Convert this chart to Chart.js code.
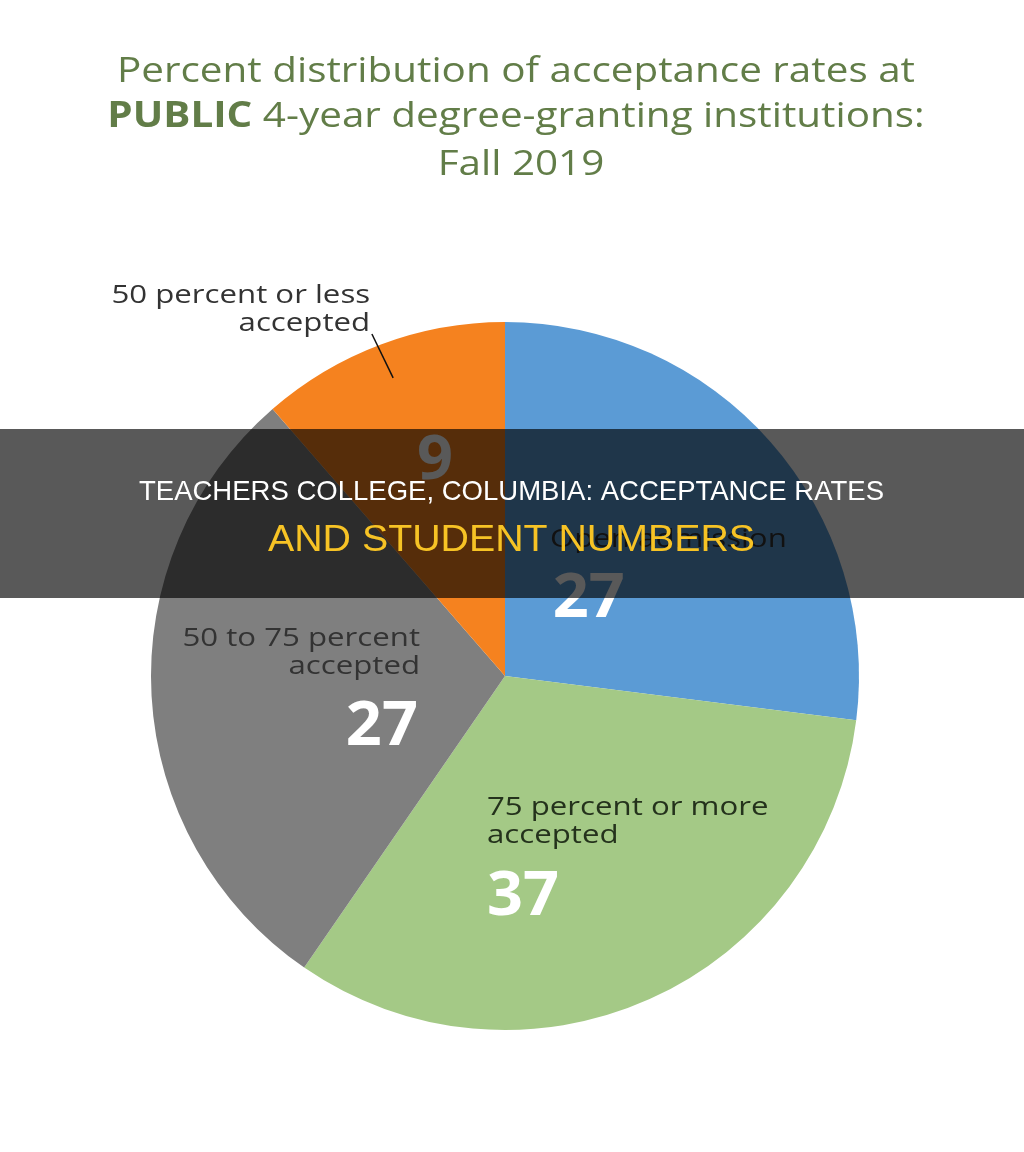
<!DOCTYPE html>
<html>
<head>
<meta charset="utf-8">
<script src="https://cdn.jsdelivr.net/npm/chart.js@4.4.1/dist/chart.umd.min.js"></script>
<style>
  html, body { margin: 0; padding: 0; background: #fff; }
  #wrap { width: 1024px; height: 1152px; position: relative; }
</style>
</head>
<body>
<div id="wrap"><canvas id="acceptChart" width="1024" height="1152"></canvas></div>
<script>
// slice order clockwise from 12 o'clock
const categories = ['Open admission', '75 percent or more accepted', '50 to 75 percent accepted', '50 percent or less accepted'];
// values printed on the slices
const printedValues = [27, 37, 27, 9];
// slice shares as drawn in the picture (percent of the circle)
const sliceShares = [27.0, 32.6, 29.0, 11.4];
const sliceColors = ['#5b9bd5', '#a4c986', '#7f7f7f', '#f5821f'];

const titleColor = '#627d48';
const labelFont = '"Open Sans", "DejaVu Sans", sans-serif';

// label placement per slice, in units of the pie radius from the centre
const labelSpots = [
    { lines: ['Open admission'], align: 'left', x: 0.127, y: -0.384, vx: 0.135, vy: -0.215, vAlign: 'left', color: '#333333' },
    { lines: ['75 percent or more', 'accepted'], align: 'left', x: -0.051, y: 0.373, vx: -0.051, vy: 0.627, vAlign: 'left', color: '#24321c' },
    { lines: ['50 to 75 percent', 'accepted'], align: 'right', x: -0.24, y: -0.107, vx: -0.246, vy: 0.147, vAlign: 'right', color: '#333333' },
    { lines: ['50 percent or less', 'accepted'], align: 'right', x: -0.381, y: -1.074, vx: -0.198, vy: -0.605, vAlign: 'center', color: '#333333',
      leader: [[-0.376, -0.966], [-0.316, -0.842]] }
];

// draw text stretched horizontally by sx, anchored like textAlign
function wideText(ctx, txt, x, y, align, sx) {
    const w = ctx.measureText(txt).width * sx;
    let left = x;
    if (align === 'right') left = x - w;
    else if (align === 'center') left = x - w / 2;
    ctx.save();
    ctx.translate(left, y);
    ctx.scale(sx, 1);
    ctx.textAlign = 'left';
    ctx.fillText(txt, 0, 0);
    ctx.restore();
    return w;
}

const overlayPlugin = {
    id: 'overlay',
    afterDraw(chart) {
        const ctx = chart.ctx;
        const arc = chart.getDatasetMeta(0).data[0];
        const cx = arc.x, cy = arc.y, r = arc.outerRadius;

        ctx.save();
        ctx.textBaseline = 'middle';

        // title
        ctx.fillStyle = titleColor;
        ctx.font = '35px ' + labelFont;
        const line1 = 'Percent distribution of acceptance rates at';
        const tsx = 798 / ctx.measureText(line1).width;
        wideText(ctx, line1, 516, 72, 'center', tsx);
        wideText(ctx, 'Fall 2019', 521, 165, 'center', tsx);
        const boldPart = 'PUBLIC ';
        const restPart = '4-year degree-granting institutions:';
        ctx.font = 'bold 35px ' + labelFont;
        const wb = ctx.measureText(boldPart).width * tsx;
        ctx.font = '35px ' + labelFont;
        const wr = ctx.measureText(restPart).width * tsx;
        const x0 = 516 - (wb + wr) / 2;
        ctx.font = 'bold 35px ' + labelFont;
        wideText(ctx, boldPart, x0, 117, 'left', tsx);
        ctx.font = '35px ' + labelFont;
        wideText(ctx, restPart, x0 + wb, 117, 'left', tsx);

        // slice labels
        labelSpots.forEach((s, i) => {
            ctx.fillStyle = s.color;
            ctx.font = '26px ' + labelFont;
            s.lines.forEach((ln, k) => {
                wideText(ctx, ln, cx + s.x * r, cy + s.y * r + k * 28, s.align, 1.2);
            });
            if (s.leader) {
                ctx.strokeStyle = '#111';
                ctx.lineWidth = 1.5;
                ctx.beginPath();
                ctx.moveTo(cx + s.leader[0][0] * r, cy + s.leader[0][1] * r);
                ctx.lineTo(cx + s.leader[1][0] * r, cy + s.leader[1][1] * r);
                ctx.stroke();
            }
            ctx.fillStyle = '#ffffff';
            ctx.font = 'bold 60px ' + labelFont;
            wideText(ctx, String(printedValues[i]), cx + s.vx * r, cy + s.vy * r, s.vAlign, 1.05);
        });

        // dark banner across the middle
        ctx.fillStyle = 'rgba(0,0,0,0.65)';
        ctx.fillRect(0, 429, chart.width, 169);
        const fitText = (txt, font, color, midX, midY, width) => {
            ctx.font = font;
            const w = ctx.measureText(txt).width;
            ctx.fillStyle = color;
            wideText(ctx, txt, midX, midY, 'center', width / w);
        };
        fitText('TEACHERS COLLEGE, COLUMBIA: ACCEPTANCE RATES', '28px "Liberation Sans", Arial, sans-serif', '#ffffff', 511.5, 492, 745);
        fitText('AND STUDENT NUMBERS', '37px "Liberation Sans", Arial, sans-serif', '#f7c325', 511.5, 541, 487);
        ctx.restore();
    }
};

new Chart(document.getElementById('acceptChart'), {
    type: 'pie',
    data: {
        labels: categories,
        datasets: [{
            data: sliceShares,
            backgroundColor: sliceColors,
            borderWidth: 0
        }]
    },
    options: {
        responsive: false,
        animation: false,
        layout: { padding: { left: 151, right: 165, top: 322, bottom: 122 } },
        plugins: {
            legend: { display: false },
            tooltip: { enabled: false }
        }
    },
    plugins: [overlayPlugin]
});
</script>
</body>
</html>
